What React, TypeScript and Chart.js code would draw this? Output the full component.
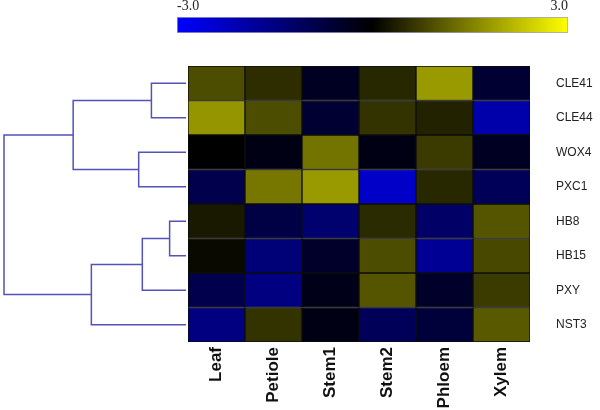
import React, { useEffect, useRef } from 'react';
import { Chart, registerables } from 'chart.js';

Chart.register(...registerables);

// ---- data ----
const columns = ['Leaf', 'Petiole', 'Stem1', 'Stem2', 'Phloem', 'Xylem'];
const genes = ['CLE41', 'CLE44', 'WOX4', 'PXC1', 'HB8', 'HB15', 'PXY', 'NST3'];

const CLE41 = [0.9, 0.53, -0.4, 0.47, 1.8, -0.6];
const CLE44 = [1.75, 0.9, -0.6, 0.6, 0.4, -2.0];
const WOX4 = [0.0, -0.25, 1.35, -0.25, 0.7, -0.4];
const PXC1 = [-0.9, 1.4, 1.8, -2.35, 0.47, -1.05];
const HB8 = [0.3, -0.8, -1.3, 0.5, -1.2, 1.0];
const HB15 = [0.1, -1.4, -0.5, 0.9, -1.75, 0.85];
const PXY = [-0.9, -1.5, -0.3, 1.0, -0.5, 0.7];
const NST3 = [-1.5, 0.6, -0.25, -1.05, -0.7, 1.05];
const rowValues = [CLE41, CLE44, WOX4, PXC1, HB8, HB15, PXY, NST3];

// dendrogram: leaves are 0..7 (row order), merges are numbered 8.. in order
const mergePairs = [[0, 1], [2, 3], [8, 9], [4, 5], [11, 6], [12, 7], [10, 13]];
const mergeHeights = [0.19, 0.26, 0.62, 0.09, 0.24, 0.52, 1.0];

const scaleMin = -3.0;
const scaleMax = 3.0;
const scaleTicks = [-3.0, 3.0];

// ---- helpers ----
function heatColor(v: number): string {
  const t = Math.max(-1, Math.min(1, v / scaleMax));
  if (t < 0) return `rgb(0,0,${Math.round(-t * 255)})`;
  const c = Math.round(t * 255);
  return `rgb(${c},${c},0)`;
}

const W = 600;
const H = 410;
const sansFamily = 'Arial, "Liberation Sans", Helvetica, sans-serif';
const serifFamily = '"Times New Roman", "Liberation Serif", serif';
const lineColor = '#5252b8';

export default function App() {
  const heatRef = useRef<HTMLCanvasElement | null>(null);
  const dendRef = useRef<HTMLCanvasElement | null>(null);
  const barRef = useRef<HTMLCanvasElement | null>(null);

  useEffect(() => {
    const charts: Chart[] = [];

    // Heatmap
    charts.push(
      new Chart(heatRef.current as HTMLCanvasElement, {
        type: 'bar',
        data: {
          labels: columns,
          datasets: genes.map((g, r) => ({
            label: g,
            data: rowValues[r].map(() => [r, r + 1]),
            backgroundColor: rowValues[r].map(heatColor),
            borderColor: '#0d0d0d',
            borderWidth: 1,
            borderSkipped: false,
            grouped: false,
            barPercentage: 1,
            categoryPercentage: 1,
          })) as any,
        },
        options: {
          responsive: false,
          animation: false,
          layout: { padding: { left: 188, top: 66, right: 0, bottom: 0 } },
          plugins: { legend: { display: false }, tooltip: { enabled: false } },
          scales: {
            x: {
              grid: { display: false, drawTicks: false },
              border: { display: false },
              ticks: {
                color: '#111',
                font: { family: sansFamily, size: 17, weight: 'bold' },
                minRotation: 90,
                maxRotation: 90,
                autoSkip: false,
                padding: 5,
              },
              afterFit: (s: any) => {
                s.height = 68;
              },
            },
            y: {
              type: 'linear',
              position: 'right',
              min: 0,
              max: genes.length,
              reverse: true,
              grid: { display: false, drawTicks: false },
              border: { display: false },
              afterBuildTicks: (s: any) => {
                s.ticks = genes.map((_, i) => ({ value: i + 0.5 }));
              },
              ticks: {
                callback: (_v: any, i: number) => genes[i],
                padding: 26,
                color: '#222',
                font: { family: sansFamily, size: 12 },
              },
              afterFit: (s: any) => {
                s.width = 70;
              },
            },
          },
        } as any,
      })
    );

    // Dendrogram
    const nodeY: number[] = genes.map((_, i) => i + 0.5);
    const nodeH: number[] = genes.map(() => 0);
    const dendSets = mergePairs.map(([a, b], k) => {
      const h = mergeHeights[k];
      nodeY.push((nodeY[a] + nodeY[b]) / 2);
      nodeH.push(h);
      return {
        data: [
          { x: nodeH[a], y: nodeY[a] },
          { x: h, y: nodeY[a] },
          { x: h, y: nodeY[b] },
          { x: nodeH[b], y: nodeY[b] },
        ],
        showLine: true,
        borderColor: lineColor,
        borderWidth: 1.5,
        pointRadius: 0,
        fill: false,
        tension: 0,
        clip: 4,
      };
    });
    charts.push(
      new Chart(dendRef.current as HTMLCanvasElement, {
        type: 'scatter',
        data: { datasets: dendSets as any },
        options: {
          responsive: false,
          animation: false,
          layout: { padding: { left: 4, top: 66, right: 414, bottom: 68 } },
          plugins: { legend: { display: false }, tooltip: { enabled: false } },
          scales: {
            x: { type: 'linear', display: false, min: 0, max: Math.max(...mergeHeights), reverse: true },
            y: { type: 'linear', display: false, min: 0, max: genes.length, reverse: true },
          },
        } as any,
      })
    );

    // Colour bar
    charts.push(
      new Chart(barRef.current as HTMLCanvasElement, {
        type: 'bar',
        data: {
          labels: ['scale'],
          datasets: [
            {
              data: [[scaleMin, scaleMax]],
              backgroundColor: (ctx: any) => {
                const chart = ctx.chart;
                const xs = chart.scales.x;
                if (!chart.chartArea || !xs) return heatColor(0);
                const x0 = xs.getPixelForValue(scaleMin);
                const x1 = xs.getPixelForValue(scaleMax);
                const g = chart.ctx.createLinearGradient(x0, 0, x1, 0);
                g.addColorStop(0, heatColor(scaleMin));
                g.addColorStop(0.5, heatColor((scaleMin + scaleMax) / 2));
                g.addColorStop(1, heatColor(scaleMax));
                return g;
              },
              borderColor: '#a0a0c8',
              borderWidth: 1,
              borderSkipped: false,
              barPercentage: 1,
              categoryPercentage: 1,
            },
          ] as any,
        },
        options: {
          indexAxis: 'y',
          responsive: false,
          animation: false,
          layout: { padding: { left: 177, right: 32, top: 0, bottom: 377 } },
          plugins: { legend: { display: false }, tooltip: { enabled: false } },
          scales: {
            y: { display: false },
            x: {
              type: 'linear',
              position: 'top',
              min: scaleMin,
              max: scaleMax,
              grid: { display: false, drawTicks: false },
              border: { display: false },
              afterBuildTicks: (s: any) => {
                s.ticks = scaleTicks.map((v) => ({ value: v }));
              },
              ticks: {
                align: 'inner',
                padding: 2,
                maxRotation: 0,
                color: '#222',
                font: { family: serifFamily, size: 14 },
                callback: (v: any) => Number(v).toFixed(1),
              },
              afterFit: (s: any) => {
                s.height = 17;
              },
            },
          },
        } as any,
      })
    );

    return () => {
      charts.forEach((c) => c.destroy());
    };
  }, []);

  const canvasStyle: React.CSSProperties = { position: 'absolute', left: 0, top: 0 };
  return (
    <div style={{ position: 'absolute', left: 0, top: 0, width: W, height: H, background: '#fff' }}>
      <canvas ref={dendRef} width={W} height={H} style={canvasStyle} />
      <canvas ref={heatRef} width={W} height={H} style={canvasStyle} />
      <canvas ref={barRef} width={W} height={H} style={canvasStyle} />
    </div>
  );
}
